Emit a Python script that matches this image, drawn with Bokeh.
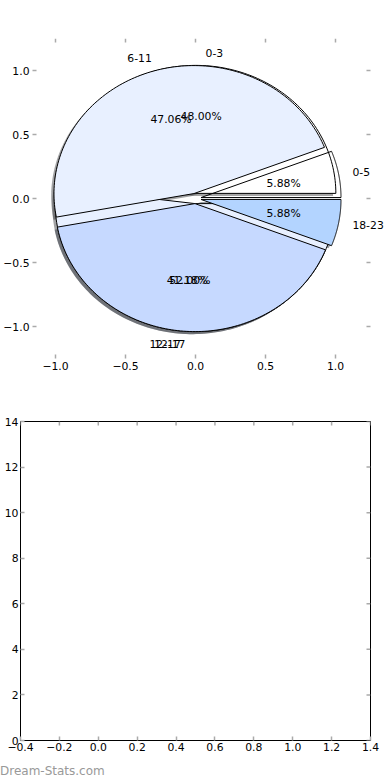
import numpy as np
from bokeh.plotting import figure
from bokeh.models import Range1d, FixedTicker, Label, Div
from bokeh.layouts import column
from bokeh.embed import file_html
from bokeh.resources import INLINE

# ---------------- data ----------------
title_text = "Mark tally for Lenny Hayes - 2010 tally"
labels_a = ["0-3", "12-17"]
values_a = [12, 13]
labels_b = ["0-5", "6-11", "12-17", "18-23"]
values_b = [1, 8, 7, 1]
colors_a = ["#ffffff", "#e8f0ff"]
colors_b = [None, "#e8f0ff", "#c6d9ff", "#b3d4ff"]

pie_ticks = [-1.0, -0.5, 0.0, 0.5, 1.0]
pie_tick_labels = ["\u22121.0", "\u22120.5", "0.0", "0.5", "1.0"]
bar_xticks = [-0.4, -0.2, 0.0, 0.2, 0.4, 0.6, 0.8, 1.0, 1.2, 1.4]
bar_xtick_labels = ["\u22120.4", "\u22120.2", "0.0", "0.2", "0.4", "0.6", "0.8", "1.0", "1.2", "1.4"]
bar_yticks = [0, 2, 4, 6, 8, 10, 12, 14]
bar_ytick_labels = ["0", "2", "4", "6", "8", "10", "12", "14"]
watermark = "Dream-Stats.com"

FONT = "DejaVu Sans"
FS = "10.8px"
TICK_COLOR = "#aaaaaa"
TICK_W = 1.5
EXPLODE = 0.04
SHADOW = 0.02
PIE_LIM = 1.25


def style_axis(ax, ticks, labels):
    ax.ticker = FixedTicker(ticks=ticks)
    ax.major_label_overrides = dict(zip(ticks, labels))
    ax.axis_line_color = None
    ax.major_tick_line_color = TICK_COLOR
    ax.major_tick_line_width = TICK_W
    ax.major_tick_in = 4
    ax.major_tick_out = 0
    ax.minor_tick_line_color = None
    ax.major_label_text_font = FONT
    ax.major_label_text_color = "black"
    ax.major_label_text_font_size = FS
    ax.major_label_standoff = 3


def inner_ticks(p, xticks, yticks, xedge, yedge, xlen, ylen):
    # tick marks on the top and right edges, pointing inwards
    p.segment(x0=xticks, y0=[yedge] * len(xticks), x1=xticks,
              y1=[yedge - ylen] * len(xticks),
              line_color=TICK_COLOR, line_width=TICK_W)
    p.segment(x0=[xedge] * len(yticks), y0=yticks,
              x1=[xedge - xlen] * len(yticks), y1=yticks,
              line_color=TICK_COLOR, line_width=TICK_W)


def wedge_geometry(values):
    fr = np.asarray(values, dtype=float) / float(sum(values))
    edges = np.concatenate([[0.0], np.cumsum(fr)]) * 2 * np.pi
    out = []
    for t1, t2 in zip(edges[:-1], edges[1:]):
        tm = 0.5 * (t1 + t2)
        cx, cy = EXPLODE * np.cos(tm), EXPLODE * np.sin(tm)
        th = np.linspace(t1, t2, 120)
        xs = np.concatenate([[cx], cx + np.cos(th), [cx]])
        ys = np.concatenate([[cy], cy + np.sin(th), [cy]])
        out.append((xs, ys, tm, cx, cy))
    return out


def shade(c):
    if c is None:
        return "#ffffff", 0.0
    h = c.lstrip("#")
    r, g, b = (int(h[i:i + 2], 16) for i in (0, 2, 4))
    return "#%02x%02x%02x" % (int(r * 0.3), int(g * 0.3), int(b * 0.3)), 0.5


# ---------------- pie figure ----------------
p1_xr = (-1.1643, 1.3929)
p1_yr = (-PIE_LIM, PIE_LIM)
p1 = figure(frame_width=358, frame_height=320,
            x_range=Range1d(*p1_xr), y_range=Range1d(*p1_yr),
            output_backend="svg", toolbar_location=None,
            min_border_left=32, min_border_right=0,
            min_border_top=38, min_border_bottom=30)
p1.grid.visible = False
p1.outline_line_color = None
p1.background_fill_color = "white"
p1.border_fill_color = "white"
style_axis(p1.xaxis[0], pie_ticks, pie_tick_labels)
style_axis(p1.yaxis[0], pie_ticks, pie_tick_labels)
inner_ticks(p1, pie_ticks, pie_ticks, PIE_LIM, PIE_LIM, 4 / 140.0, 4 / 128.0)

geo_a = wedge_geometry(values_a)
geo_b = wedge_geometry(values_b)

# shadows (below all wedges)
for geo, cols in ((geo_a, colors_a), (geo_b, colors_b)):
    sx, sy, sc, sa = [], [], [], []
    for (xs, ys, tm, cx, cy), c in zip(geo, cols):
        col, al = shade(c)
        sx.append(list(xs - SHADOW))
        sy.append(list(ys - SHADOW))
        sc.append(col)
        sa.append(al)
    p1.patches(sx, sy, fill_color=sc, fill_alpha=sa, line_color=None)

# wedges: first pie, then second pie on top
for geo, cols in ((geo_a, colors_a), (geo_b, colors_b)):
    wx = [list(g[0]) for g in geo]
    wy = [list(g[1]) for g in geo]
    fc = [c if c is not None else "#ffffff" for c in cols]
    fa = [0.0 if c is None else 1.0 for c in cols]
    p1.patches(wx, wy, fill_color=fc, fill_alpha=fa,
               line_color="black", line_width=1, line_join="miter")

# labels and percentages
for geo, labs, vals in ((geo_a, labels_a, values_a), (geo_b, labels_b, values_b)):
    tot = float(sum(vals))
    for (xs, ys, tm, cx, cy), lab, v in zip(geo, labs, vals):
        lx = cx + 1.1 * np.cos(tm)
        ly = cy + 1.1 * np.sin(tm)
        p1.add_layout(Label(x=lx, y=ly, text=lab,
                            text_align="left" if lx > 0 else "right",
                            text_baseline="middle", text_font=FONT,
                            text_font_size=FS, text_color="black"))
        px = cx + 0.6 * np.cos(tm)
        py = cy + 0.6 * np.sin(tm)
        p1.add_layout(Label(x=px, y=py, text="%.2f%%" % (100.0 * v / tot),
                            text_align="center", text_baseline="middle",
                            text_font=FONT, text_font_size=FS, text_color="black"))

p1.add_layout(Label(x=0.0, y=1.3125, text=title_text, text_align="center",
                    text_baseline="middle", text_font=FONT,
                    text_font_size="13px", text_color="black"))

# ---------------- empty axes figure ----------------
p2_xr = (-0.4, 1.4)
p2_yr = (0, 14)
p2 = figure(frame_width=350, frame_height=319,
            x_range=Range1d(*p2_xr), y_range=Range1d(*p2_yr),
            output_backend="svg", toolbar_location=None,
            min_border_left=20, min_border_right=20,
            min_border_top=33, min_border_bottom=22)
p2.grid.visible = False
p2.outline_line_color = "black"
p2.outline_line_width = 1
p2.background_fill_color = "white"
p2.border_fill_color = "white"
style_axis(p2.xaxis[0], bar_xticks, bar_xtick_labels)
style_axis(p2.yaxis[0], bar_yticks, bar_ytick_labels)
p2.xaxis[0].major_label_standoff = 2
p2.yaxis[0].major_label_standoff = 2
inner_ticks(p2, bar_xticks, bar_yticks, p2_xr[1], p2_yr[1],
            4 / (350 / 1.8), 4 / (319 / 14.0))

mark = Div(text=watermark, width=390, height=18, margin=(0, 0, 0, 0),
           styles={"color": "#999999", "font-family": FONT,
                   "font-size": "12px", "line-height": "14px",
                   "padding-top": "2px"})

# separate columns so the two plot frames are not aligned to each other
layout = column(column(p1), column(p2), mark, spacing=0)
open("out.html", "w").write(file_html(layout, INLINE))
